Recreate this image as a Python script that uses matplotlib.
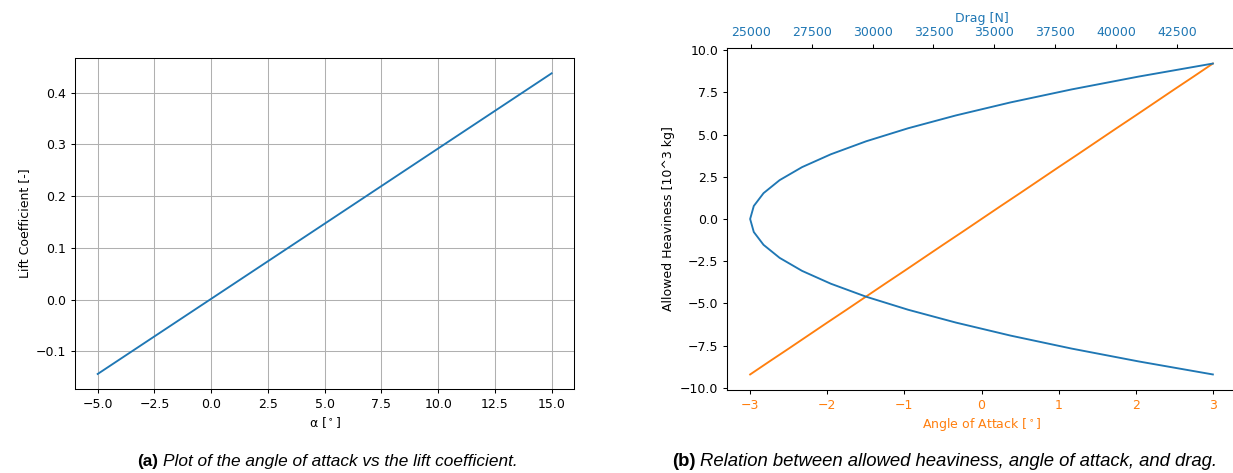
import matplotlib
matplotlib.use("Agg")
import matplotlib.pyplot as plt

# ---------------- data ----------------
alpha_deg = [-5.0, 0.0, 5.0, 10.0, 15.0]
lift_coeff = [-0.1437, 0.0015, 0.1467, 0.2920, 0.4372]

aoa = [-3.00, -2.75, -2.50, -2.25, -2.00, -1.75, -1.50, -1.25, -1.00, -0.75, -0.50, -0.25,
       0.00, 0.25, 0.50, 0.75, 1.00, 1.25, 1.50, 1.75, 2.00, 2.25, 2.50, 2.75, 3.00]
heaviness = [-9.20, -8.43, -7.67, -6.90, -6.13, -5.37, -4.60, -3.83, -3.07, -2.30, -1.53, -0.77,
             0.00, 0.77, 1.53, 2.30, 3.07, 3.83, 4.60, 5.37, 6.13, 6.90, 7.67, 8.43, 9.20]
drag = [43960, 40920, 38170, 35660, 33420, 31460, 29740, 28290, 27110, 26190, 25530, 25130,
        24980, 25130, 25530, 26190, 27110, 28290, 29740, 31460, 33420, 35660, 38170, 40920, 43960]

drag_ticks = [25000, 27500, 30000, 32500, 35000, 37500, 40000, 42500]

BLUE = "#1f77b4"
ORANGE = "#ff7f0e"

plt.rcParams.update({
    "font.family": "DejaVu Sans",
    "font.size": 9,
    "axes.linewidth": 0.75,
    "xtick.major.width": 0.75,
    "ytick.major.width": 0.75,
    "xtick.major.size": 3.2,
    "ytick.major.size": 3.2,
    "xtick.major.pad": 3.0,
    "ytick.major.pad": 3.0,
    "axes.labelpad": 3.5,
    "lines.linewidth": 1.35,
    "grid.linewidth": 0.75,
})

fig = plt.figure(figsize=(12.33, 4.73), dpi=100)
W, H = 1233, 473

def pos(l, t, r, b):
    return [l / W, 1 - b / H, (r - l) / W, (b - t) / H]

# ---------------- left panel ----------------
ax1 = fig.add_axes(pos(75, 58.3, 574.3, 389))
ax1.plot(alpha_deg, lift_coeff, color=BLUE)
ax1.grid(True, color="#b0b0b0")
ax1.set_xticks([-5, -2.5, 0, 2.5, 5, 7.5, 10, 12.5, 15])
ax1.set_yticks([-0.1, 0.0, 0.1, 0.2, 0.3, 0.4])
ax1.set_xlabel(r"α [$^\circ$]")
ax1.set_ylabel("Lift Coefficient [-]")

# ---------------- right panel ----------------
ax2 = fig.add_axes(pos(727, 48, 1236, 390))
ax2.plot(aoa, heaviness, color=ORANGE)
ax2.set_ylim(-10.12, 10.12)
ax2.set_yticks([-10.0, -7.5, -5.0, -2.5, 0.0, 2.5, 5.0, 7.5, 10.0])
ax2.set_xticks([-3, -2, -1, 0, 1, 2, 3])
ax2.tick_params(axis="x", labelcolor=ORANGE)
ax2.set_xlabel(r"Angle of Attack [$^\circ$]", color=ORANGE)
ax2.set_ylabel("Allowed Heaviness [10^3 kg]")

ax3 = ax2.twiny()
ax3.plot(drag, heaviness, color=BLUE)
ax3.set_xticks(drag_ticks)
ax3.tick_params(axis="x", labelcolor=BLUE)
ax3.set_xlabel("Drag [N]", color=BLUE)

# ---------------- captions ----------------
cap_font = "Liberation Sans"
yb = (H - 466) / H
fig.text(137 / W, yb, "(a)", fontsize=12.4, fontweight="bold", family=cap_font, va="baseline")
fig.text(163 / W, yb, "Plot of the angle of attack vs the lift coefficient.",
         fontsize=12.4, style="italic", family=cap_font, va="baseline")
fig.text(672 / W, yb, "(b)", fontsize=13.3, fontweight="bold", family=cap_font, va="baseline")
fig.text(700 / W, yb, "Relation between allowed heaviness, angle of attack, and drag.",
         fontsize=13.3, style="italic", family=cap_font, va="baseline")

fig.savefig("out.png", dpi=100)
